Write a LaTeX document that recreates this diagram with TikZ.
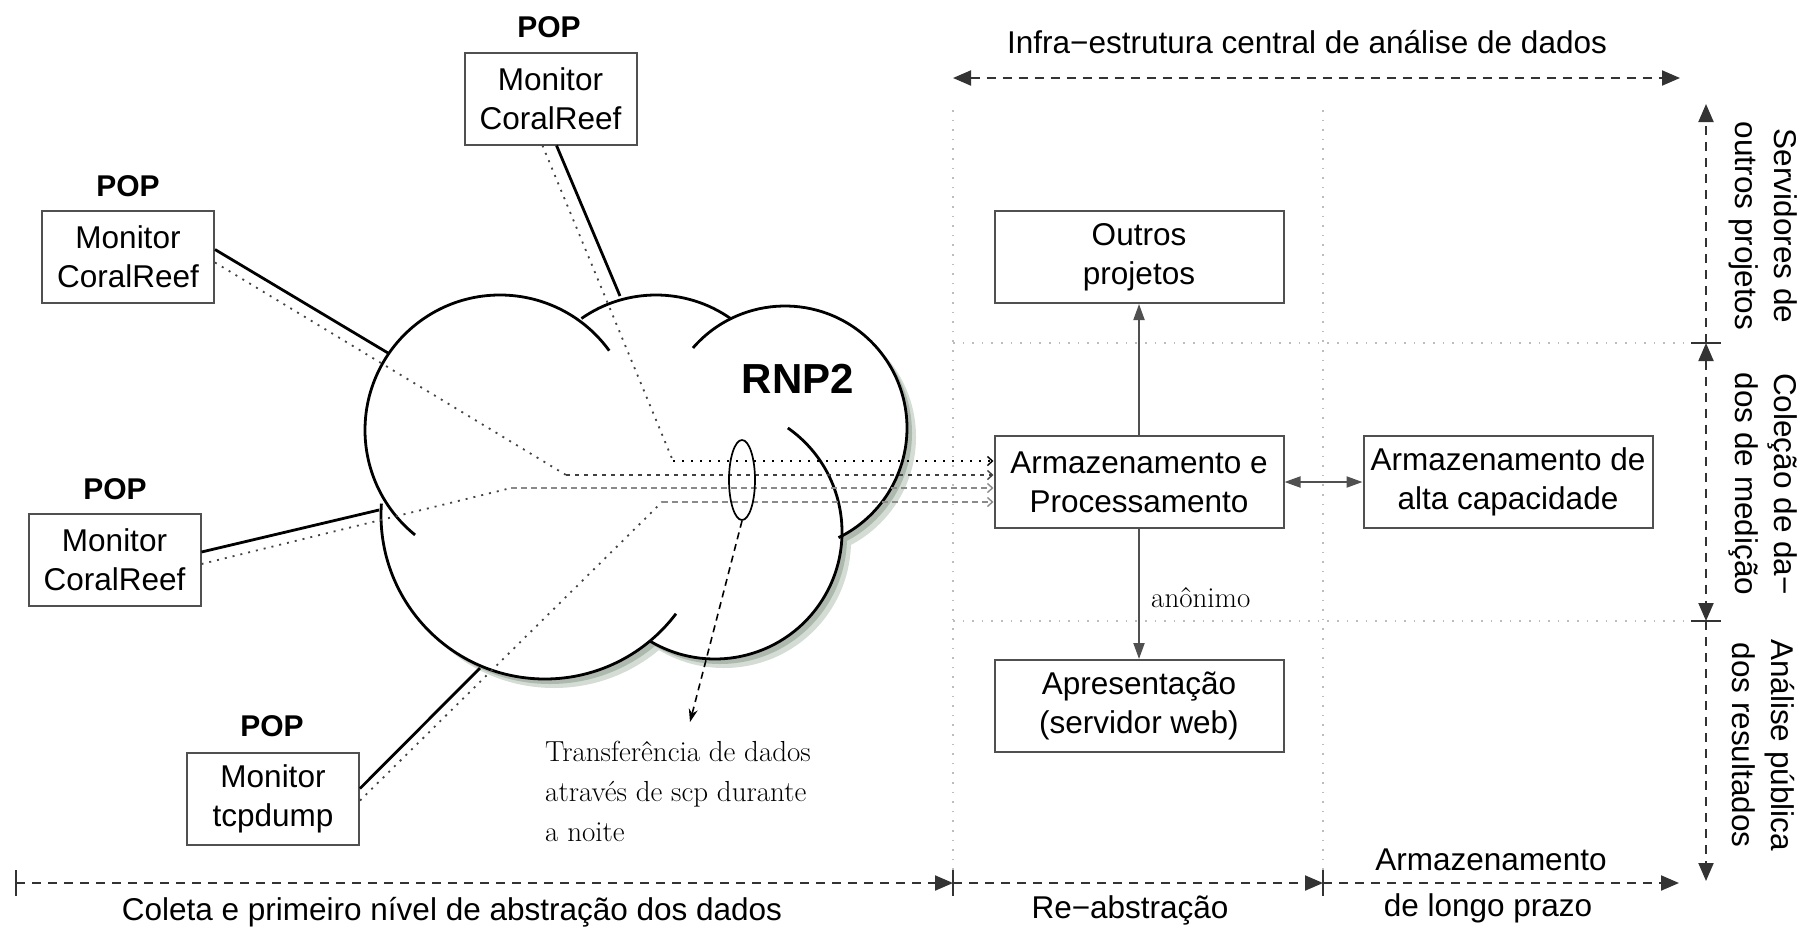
\documentclass[tikz,border=0pt]{standalone}
\usepackage{fontspec}
\setsansfont{Liberation Sans}
\usetikzlibrary{arrows.meta,calc,shapes.geometric}
\definecolor{boxgray}{HTML}{505050}
\definecolor{gridgray}{HTML}{BDBDBD}
\definecolor{shadowA}{HTML}{AEB9AE}
\definecolor{shadowB}{HTML}{D5DCD5}
\definecolor{axisgray}{HTML}{333333}
\definecolor{linegray}{HTML}{8A8A8A}
\definecolor{dotgray}{HTML}{444444}
\begin{document}
\begin{tikzpicture}[x=1pt,y=-1pt,
  sftext/.style={font=\fontsize{31.5}{39}\selectfont\sffamily},
  sbox/.style={draw=boxgray,line width=2pt,fill=white,minimum width=172pt,minimum height=92pt,inner sep=0pt,align=center,sftext},
  wbox/.style={sbox,minimum width=289pt},
  poplabel/.style={font=\fontsize{30}{36}\selectfont\sffamily\bfseries,inner sep=0pt},
  cloudline/.style={line width=2.8pt,black},
  linkline/.style={line width=2.8pt,black},
  diag/.style={line width=1.8pt,dotgray,dash pattern=on 2pt off 6pt},
  dataA/.style={line width=1.8pt,black,dash pattern=on 2pt off 7pt},
  dataB/.style={line width=1.8pt,black!75,dash pattern=on 4pt off 5pt},
  dataC/.style={line width=1.8pt,linegray,dash pattern=on 6pt off 4pt},
  intip/.tip={Straight Barb[length=5pt,width=9pt,line width=1.4pt]},
  axtip/.tip={Triangle[length=18pt,width=15pt]},
  fltip/.tip={Triangle[length=16pt,width=11pt]},
  eltip/.tip={Stealth[length=13pt,width=9pt]},
  axis/.style={line width=2pt,axisgray,dash pattern=on 9pt off 7pt},
  tickline/.style={line width=1.5pt,axisgray},
  gridline/.style={line width=1.6pt,gridgray,dash pattern=on 1.6pt off 8pt},
  flow/.style={line width=2pt,boxgray},
  serif/.style={font=\fontsize{29}{40}\selectfont\rmfamily,inner sep=0pt},
  axlabel/.style={sftext,inner sep=0pt,align=center}
]
\useasboundingbox (0,0) rectangle (1809,927);

% ---------- axes coordinates
\coordinate (tL) at (953,78);  \coordinate (tR) at (1680,78);
\coordinate (b0) at (16,883);  \coordinate (b1) at (953,883);
\coordinate (b2) at (1323,883); \coordinate (b3) at (1679,883);
\coordinate (r0) at (1706,104); \coordinate (r1) at (1706,343);
\coordinate (r2) at (1706,621); \coordinate (r3) at (1706,881);
\coordinate (g1) at (953,110);  \coordinate (g2) at (1323,110);
\coordinate (h1) at (953,343);  \coordinate (h2) at (953,621);

% ---------- grid
\draw[gridline] (g1) -- (b1);
\draw[gridline] (g2) -- (b2);
\draw[gridline] (h1) -- (r1);
\draw[gridline] (h2) -- (r2);

% ---------- axes
\draw[axis,axtip-axtip] (tL) -- (tR);
\draw[axis,-axtip] (b0) -- (b1);
\draw[axis,-axtip] (b1) -- (b2);
\draw[axis,-axtip] (b2) -- (b3);
\foreach \p in {b0,b1,b2}{\draw[tickline] ($(\p)+(0,-13)$) -- ($(\p)+(0,13)$);}
\draw[axis,-axtip] (r1) -- (r0);
\draw[axis,axtip-axtip] (r1) -- (r2);
\draw[axis,-axtip] (r2) -- (r3);
\foreach \p in {r1,r2}{\draw[tickline] ($(\p)+(-15,0)$) -- ($(\p)+(15,0)$);}

\node[sftext,inner sep=0pt] (toplab) at (1307,42) {Infra−estrutura central de análise de dados};
\node[sftext,inner sep=0pt] (lb1) at (452,912) {Coleta e primeiro nível de abstração dos dados};
\node[sftext,inner sep=0pt] (lb2) at (1130,910) {Re−abstração};
\node[sftext,inner sep=0pt] (lb3) at (1491,860) {Armazenamento};
\node[sftext,inner sep=0pt] (lb4) at (1488,908) {de longo prazo};
\node[axlabel,rotate=-90] (ax1) at (1763,226) {Servidores de\\outros projetos};
\node[axlabel,rotate=-90] (ax2) at (1763,484) {Coleção de da−\\dos de medição};
\node[axlabel,rotate=-90] (ax3) at (1763,745) {Análise pública\\dos resultados};

% ---------- cloud
\coordinate (cL) at (500,430);
\coordinate (cM) at (656,425);
\coordinate (cR) at (785,428);
\coordinate (cLR) at (715,532);
\coordinate (cLL) at (545,515);
\foreach \c/\r in {cL/135,cM/130,cR/122,cLR/127,cLL/164}{\fill[shadowB] ($(\c)+(9,9)$) circle[radius=\r pt];}
\foreach \c/\r in {cL/135,cM/130,cR/122,cLR/127,cLL/164}{\fill[shadowA] ($(\c)+(5,5)$) circle[radius=\r pt];}
\foreach \c/\r in {cL/135,cM/130,cR/122,cLR/127,cLL/164}{\fill[white] (\c) circle[radius=\r pt];}
\draw[cloudline] ($(cL)+(36:135pt)$) arc[start angle=36,end angle=231,radius=135pt];
\draw[cloudline] ($(cM)+(55:130pt)$) arc[start angle=55,end angle=125,radius=130pt];
\draw[cloudline] ($(cR)+(139:122pt)$) arc[start angle=139,end angle=-64,radius=122pt];
\draw[cloudline] ($(cLR)+(55:127pt)$) arc[start angle=55,end angle=-121,radius=127pt];
\draw[cloudline] ($(cLL)+(176:164pt)$) arc[start angle=176,end angle=323,radius=164pt];
\node[font=\fontsize{42}{48}\selectfont\sffamily\bfseries,inner sep=0pt] (rnp) at (798,379) {RNP2};

% ---------- boxes
\node[poplabel] (pl1) at (549,27) {POP};
\node[sbox] (pop1) at (550.5,98.5) {Monitor\\CoralReef};
\node[poplabel] (pl2) at (128,186) {POP};
\node[sbox] (pop2) at (128,256.5) {Monitor\\CoralReef};
\node[poplabel] (pl3) at (115,489) {POP};
\node[sbox] (pop3) at (114.5,560) {Monitor\\CoralReef};
\node[poplabel] (pl4) at (272,726) {POP};
\node[sbox] (pop4) at (273,798.5) {Monitor\\tcpdump};

\node[wbox] (op) at (1139,257) {Outros\\projetos};
\node[wbox] (ap) at (1139,482) {Armazenamento e\\Processamento};
\node[wbox] (ac) at (1508,482) {Armazenamento de\\alta capacidade};
\node[wbox] (pr) at (1139,706) {Apresentação\\(servidor web)};

% ---------- data lines through the cloud
\coordinate (k1) at (673,461);
\coordinate (k2) at (566,475);
\coordinate (k3) at (511,488);
\coordinate (k4) at (662,502);
\draw[diag] ($(pop1.south)+(-8,0)$) -- (k1);
\draw[diag] ($(pop2.east)+(0,6)$) -- (k2);
\draw[diag] ($(pop3.east)+(0,4)$) -- (k3);
\draw[diag] ($(pop4.east)+(0,2)$) -- (k4);
\draw[dataA,-intip] (k1) -- ($(ap.west)+(0,-21)$);
\draw[dataB,-intip] (k2) -- ($(ap.west)+(0,-7)$);
\draw[dataC,-intip] (k3) -- ($(ap.west)+(0,6)$);
\draw[dataC,-intip] (k4) -- ($(ap.west)+(0,20)$);

% ---------- solid links to the cloud
\coordinate (j1) at (620,296);
\coordinate (j2) at (388,353);
\coordinate (j3) at (379,510);
\coordinate (j4) at (480,668);
\draw[linkline] ($(pop1.south)+(6,0)$) -- (j1);
\draw[linkline] ($(pop2.east)+(0,-7)$) -- (j2);
\draw[linkline] ($(pop3.east)+(0,-8)$) -- (j3);
\draw[linkline] ($(pop4.east)+(0,-10)$) -- (j4);

% ---------- scp ellipse and note
\node[draw,ellipse,line width=1.7pt,minimum width=26pt,minimum height=80pt,inner sep=0pt] (el) at (742,480) {};
\node[serif,align=left,anchor=north west] (tr) at (545,741) {Transferência de dados\\através de scp durante\\a noite};
\coordinate (trtip) at (690,722);
\draw[line width=1.6pt,dash pattern=on 7pt off 5pt,-eltip] (el.south) -- (trtip);

% ---------- flows between boxes
\draw[flow,-fltip] (ap.north) -- (op.south);
\draw[flow,fltip-fltip] (ap.east) -- (ac.west);
\draw[flow,-fltip] (ap.south) -- (pr.north);
\node[serif,anchor=west] (anon) at (1151,598) {anônimo};

\end{tikzpicture}
\end{document}
